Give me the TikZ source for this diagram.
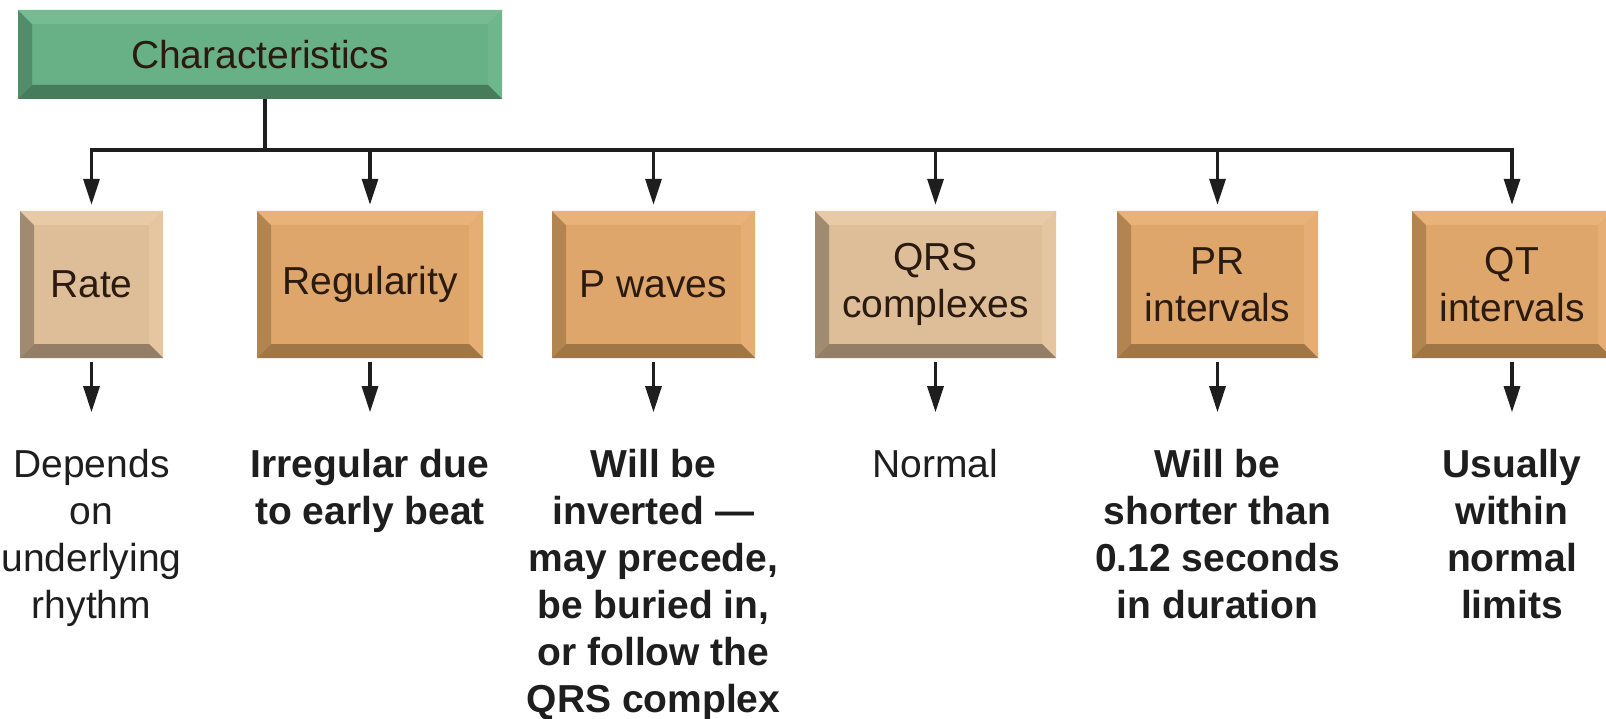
\documentclass[tikz,border=0pt]{standalone}
\usepackage{fontspec}
\setmainfont{Liberation Sans}
\usetikzlibrary{arrows.meta, positioning, calc}

\definecolor{grnface}{RGB}{104,176,134}
\definecolor{grntop}{RGB}{118,188,146}
\definecolor{grnleft}{RGB}{80,142,106}
\definecolor{grnright}{RGB}{112,182,140}
\definecolor{grnbot}{RGB}{70,124,92}
\definecolor{orgface}{RGB}{222,166,106}
\definecolor{orgtop}{RGB}{232,178,120}
\definecolor{orgleft}{RGB}{178,132,80}
\definecolor{orgright}{RGB}{230,174,116}
\definecolor{orgbot}{RGB}{160,118,70}
\definecolor{tanface}{RGB}{222,190,152}
\definecolor{tantop}{RGB}{232,202,166}
\definecolor{tanleft}{RGB}{160,138,112}
\definecolor{tanright}{RGB}{230,198,160}
\definecolor{tanbot}{RGB}{148,126,102}
\definecolor{boxtext}{RGB}{42,26,16}
\definecolor{ink}{RGB}{30,30,30}

\tikzset{
  bevel/.style={fill=#1face, inner sep=0pt, align=center, text=boxtext,
    font=\fontsize{39}{47}\selectfont,
    path picture={
      \coordinate (o1) at (path picture bounding box.south west);
      \coordinate (o2) at (path picture bounding box.north east);
      \coordinate (i1) at ([shift={(14pt,14pt)}]o1);
      \coordinate (i2) at ([shift={(-14pt,-14pt)}]o2);
      \fill[#1left]  (o1) -- (o1 |- o2) -- (i1 |- i2) -- (i1) -- cycle;
      \fill[#1top]   (o1 |- o2) -- (o2) -- (i2) -- (i1 |- i2) -- cycle;
      \fill[#1right] (o2) -- (o2 |- o1) -- (i2 |- i1) -- (i2) -- cycle;
      \fill[#1bot]   (o1) -- (o2 |- o1) -- (i2 |- i1) -- (i1) -- cycle;
    }},
  row/.style={minimum height=147pt},
  desc/.style={inner sep=0pt, align=center, text=ink,
    font=\fontsize{39}{47}\selectfont},
  line/.style={draw=ink, line width=3.2pt},
  link/.style={line, -{Triangle[length=26pt,width=16pt]}},
}

\begin{document}
\begin{tikzpicture}[x=1pt, y=-1pt]
  \useasboundingbox (0,0) rectangle (1606,719);
  \clip (0,0) rectangle (1606,719);
  \fill[white] (0,0) rectangle (1606,719);

  % top box
  \node[bevel=grn, minimum width=484pt, minimum height=89pt] (char) at (260,54.5) {Characteristics};

  % row of characteristics
  \node[bevel=tan, row, minimum width=143pt] (rate) at (91.5,284.5) {Rate};
  \node[bevel=org, row, minimum width=226pt] (reg)  at (370,284.5)  {Regularity};
  \node[bevel=org, row, minimum width=203pt] (pwav) at (653.5,284.5) {P waves};
  \node[bevel=tan, row, minimum width=241pt] (qrs)  at (935.5,284.5) {QRS\\complexes};
  \node[bevel=org, row, minimum width=201pt] (pr)   at (1217.5,284.5) {PR\\intervals};
  \node[bevel=org, row, minimum width=200pt] (qt)   at (1512,284.5) {QT\\intervals};

  % findings
  \node[desc, below=91pt of rate] (rated) {Depends\\on\\underlying\\rhythm};
  \node[desc, below=91pt of reg, font=\fontsize{39}{47}\selectfont\bfseries] (regd) {Irregular due\\to early beat};
  \node[desc, below=91pt of pwav, font=\fontsize{39}{47}\selectfont\bfseries] (pwavd) {Will be\\inverted —\\may precede,\\be buried in,\\or follow the\\QRS complex};
  \node[desc, below=91pt of qrs] (qrsd) {Normal};
  \node[desc, below=91pt of pr, font=\fontsize{39}{47}\selectfont\bfseries] (prd) {Will be\\shorter than\\0.12 seconds\\in duration};
  \node[desc, below=91pt of qt, font=\fontsize{39}{47}\selectfont\bfseries] (qtd) {Usually\\within\\normal\\limits};

  % connectors
  \coordinate (bar) at (265,150);
  \draw[line] (char.south -| bar) -- (bar);
  \draw[line, line cap=rect] (bar -| rate) -- (bar -| qt);
  \foreach \b in {rate,reg,pwav,qrs,pr,qt}
    \draw[link, shorten >=6pt] (bar -| \b) -- (\b.north);
  \foreach \b in {rate,reg,pwav,qrs,pr,qt}
    \draw[link, shorten <=4pt, shorten >=37pt] (\b.south) -- (\b d.north);
\end{tikzpicture}
\end{document}
